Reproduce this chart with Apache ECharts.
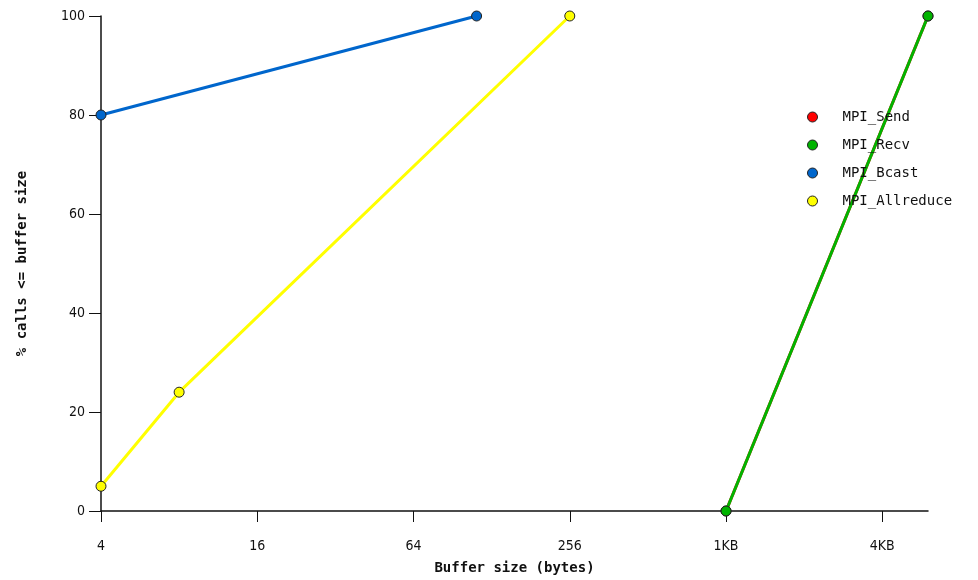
<!DOCTYPE html>
<html>
<head>
<meta charset="utf-8">
<script src="https://cdn.jsdelivr.net/npm/echarts@6/dist/echarts.min.js"></script>
<style>html,body{margin:0;padding:0;background:#fff}#c{width:978px;height:580px}</style>
</head>
<body>
<div id="c"></div>
<script>
var xTicks = [4, 16, 64, 256, 1024, 4096];
var tickLabels = ['4', '16', '64', '256', '1KB', '4KB'];
var sendData = [[1024, 0], [6144, 100]];
var recvData = [[1024, 0], [6144, 100]];
var bcastData = [[4, 80], [112, 100]];
var allreduceData = [[4, 5], [8, 24], [256, 100]];
var seriesNames = ['MPI_Send', 'MPI_Recv', 'MPI_Bcast', 'MPI_Allreduce'];
var seriesColors = ['#ff0000', '#00b400', '#0066cc', '#ffff00'];

var chart = echarts.init(document.getElementById('c'));
var dataSets = [sendData, recvData, bcastData, allreduceData];
var series = dataSets.map(function (d, i) {
  return {
    name: seriesNames[i],
    type: 'line',
    data: d,
    symbol: 'circle',
    symbolSize: 10,
    showSymbol: true,
    animation: false,
    lineStyle: { color: seriesColors[i], width: 3 },
    itemStyle: { color: seriesColors[i], borderColor: '#222', borderWidth: 1 },
    z: 2 + i
  };
});
chart.setOption({
  animation: false,
  grid: { left: 101, right: 50, top: 16, bottom: 68 },
  legend: {
    orient: 'vertical',
    left: 802,
    top: 102,
    itemGap: 8,
    itemWidth: 10,
    itemHeight: 20,
    icon: 'circle',
    data: seriesNames.map(function (n, i) {
      return { name: n, itemStyle: { color: seriesColors[i], borderColor: '#222', borderWidth: 1 } };
    }),
    textStyle: { fontFamily: 'DejaVu Sans Mono', fontSize: 14, color: '#111', padding: [0, 0, 0, 20], lineHeight: 20 }
  },
  xAxis: {
    type: 'log',
    logBase: 4,
    min: 4,
    max: 6144,
    name: 'Buffer size (bytes)',
    nameLocation: 'middle',
    nameGap: 50,
    nameTextStyle: { fontFamily: 'DejaVu Sans Mono', fontWeight: 'bold', fontSize: 14, color: '#111' },
    axisLine: { onZero: false, lineStyle: { color: '#111', width: 1.5 } },
    axisTick: { show: true, length: 11, lineStyle: { color: '#111' }, customValues: xTicks },
    axisLabel: {
      customValues: xTicks,
      margin: 28,
      fontFamily: 'Liberation Sans Narrow, DejaVu Sans Condensed, sans-serif',
      fontSize: 14,
      color: '#111',
      formatter: function (v) {
        var idx = xTicks.indexOf(Math.round(v));
        return idx >= 0 ? tickLabels[idx] : '';
      }
    },
    splitLine: { show: false }
  },
  yAxis: {
    type: 'value',
    min: 0,
    max: 100,
    interval: 20,
    name: '% calls <= buffer size',
    nameLocation: 'middle',
    nameGap: 72,
    nameTextStyle: { fontFamily: 'DejaVu Sans Mono', fontWeight: 'bold', fontSize: 14, color: '#111' },
    axisLine: { show: true, lineStyle: { color: '#111', width: 1.5 } },
    axisTick: { show: true, length: 12, lineStyle: { color: '#111' } },
    axisLabel: { margin: 16, fontFamily: 'Liberation Sans Narrow, DejaVu Sans Condensed, sans-serif', fontSize: 14, color: '#111' },
    splitLine: { show: false }
  },
  series: series
});
</script>
</body>
</html>
